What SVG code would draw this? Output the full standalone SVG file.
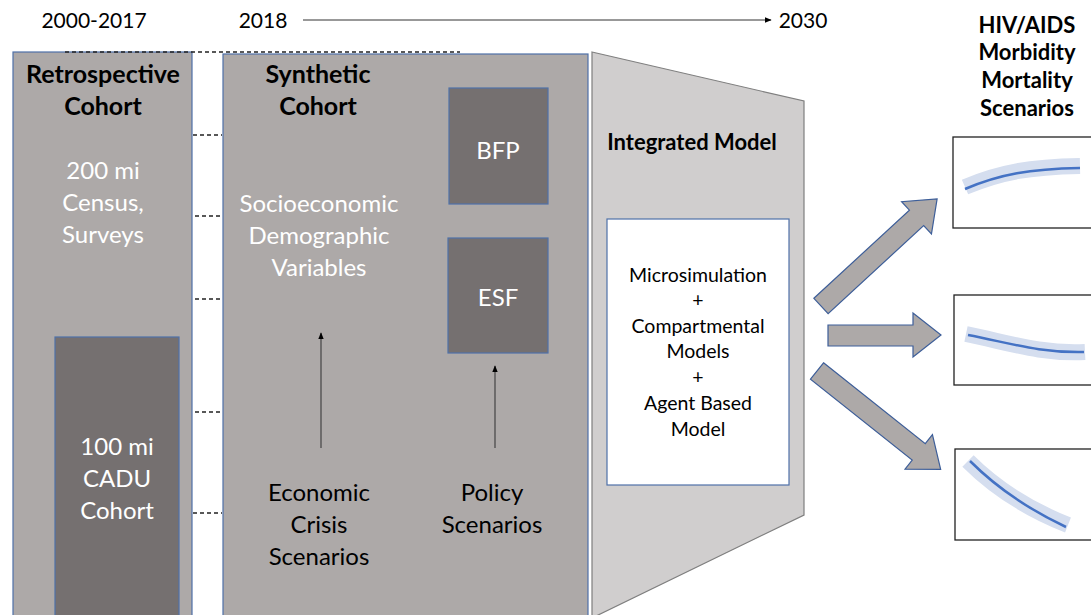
<svg xmlns="http://www.w3.org/2000/svg" width="1091" height="615" viewBox="0 0 1091 615">
<defs>
<style>
.t{font-family:Lato,"Liberation Sans",sans-serif;text-anchor:middle}
.w{fill:#ffffff}
.k{fill:#000000}
.b{font-weight:bold}
.box{fill:#ADA9A8;stroke:#4F71A8;stroke-width:1.2}
.dark{fill:#757070;stroke:#4F71A8;stroke-width:1.2}
.dash{stroke:#222;stroke-width:1.3;stroke-dasharray:4 3;fill:none}
.blk{fill:#ADA9A8;stroke:#3D5E99;stroke-width:1.2}
.band{fill:none;stroke:#D5DEEF;stroke-width:16;stroke-linecap:butt}
.crv{fill:none;stroke:#4472C4;stroke-width:2.5}
.sbox{fill:#fff;stroke:#222;stroke-width:1.3}
</style>
<marker id="ah" viewBox="0 0 10 10" refX="9" refY="5" markerWidth="7" markerHeight="7" orient="auto" markerUnits="userSpaceOnUse"><path d="M0,1 L10,5 L0,9 z" fill="#000"/></marker>
</defs>
<rect width="1091" height="615" fill="#fff"/>

<g id="timeline">
<text class="t k" x="94" y="28" font-size="21">2000-2017</text>
<text class="t k" x="263" y="28" font-size="21">2018</text>
<text class="t k" x="803" y="28" font-size="21">2030</text>
</g>

<g id="retrospective">
<rect class="box" x="13" y="52" width="179" height="570"/>
<text class="t k b" x="103" y="83" font-size="25">Retrospective</text>
<text class="t k b" x="103" y="115" font-size="25">Cohort</text>
<text class="t w" x="103" y="179" font-size="24">200 mi</text>
<text class="t w" x="103" y="211" font-size="24">Census,</text>
<text class="t w" x="103" y="243" font-size="24">Surveys</text>
</g>

<g id="cadu">
<rect class="dark" x="55" y="337" width="124" height="290"/>
<text class="t w" x="117" y="455" font-size="24">100 mi</text>
<text class="t w" x="117" y="487" font-size="24">CADU</text>
<text class="t w" x="117" y="519" font-size="24">Cohort</text>
</g>

<g id="synthetic">
<rect class="box" x="223" y="54" width="365" height="570"/>
<text class="t k b" x="318" y="83" font-size="25">Synthetic</text>
<text class="t k b" x="318" y="115" font-size="25">Cohort</text>
<text class="t w" x="319" y="212" font-size="24">Socioeconomic</text>
<text class="t w" x="319" y="244" font-size="24">Demographic</text>
<text class="t w" x="319" y="276" font-size="24">Variables</text>
<text class="t k" x="319" y="501" font-size="24">Economic</text>
<text class="t k" x="319" y="533" font-size="24">Crisis</text>
<text class="t k" x="319" y="565" font-size="24">Scenarios</text>
<text class="t k" x="492" y="501" font-size="24">Policy</text>
<text class="t k" x="492" y="533" font-size="24">Scenarios</text>
</g>

<g id="bfp">
<rect class="dark" x="449" y="88" width="99" height="116"/>
<text class="t w" x="498" y="159" font-size="24">BFP</text>
</g>

<g id="esf">
<rect class="dark" x="448" y="238" width="100" height="115"/>
<text class="t w" x="498" y="306" font-size="24">ESF</text>
</g>

<g id="integrated">
<polygon points="592,52 804,101 804,515 592,618" fill="#D0CECE" stroke="#7F7F7F" stroke-width="1.2"/>
<text class="t k b" x="692" y="150" font-size="22">Integrated Model</text>
<rect x="607" y="219" width="182" height="266" fill="#fff" stroke="#4F71A8" stroke-width="1.2"/>
<text class="t k" x="698" y="282" font-size="19.5">Microsimulation</text>
<text class="t k" x="698" y="307" font-size="19.5">+</text>
<text class="t k" x="698" y="333" font-size="19.5">Compartmental</text>
<text class="t k" x="698" y="358" font-size="19.5">Models</text>
<text class="t k" x="698" y="384" font-size="19.5">+</text>
<text class="t k" x="698" y="410" font-size="19.5">Agent Based</text>
<text class="t k" x="698" y="436" font-size="19.5">Model</text>
</g>

<g id="outcomes">
<text class="t k b" x="1027" y="33" font-size="22">HIV/AIDS</text>
<text class="t k b" x="1027" y="60" font-size="22">Morbidity</text>
<text class="t k b" x="1027" y="88" font-size="22">Mortality</text>
<text class="t k b" x="1027" y="116" font-size="22">Scenarios</text>
</g>

<g id="scenario1">
<rect class="sbox" x="953" y="137" width="145" height="91"/>
<path class="band" d="M965,187 C1000,172 1030,167 1080,166"/>
<path class="crv" d="M965,189 C1000,174 1030,169 1080,168"/>
</g>
<g id="scenario2">
<rect class="sbox" x="954" y="295" width="145" height="90"/>
<path class="band" d="M966,334 C1010,343 1040,354 1085,352"/>
<path class="crv" d="M968,335 C1010,343 1040,353 1084,352"/>
</g>
<g id="scenario3">
<rect class="sbox" x="955" y="449" width="145" height="91"/>
<path class="band" d="M968,461 C995,488 1030,510 1068,525"/>
<path class="crv" d="M970,461 C997,488 1030,510 1066,527"/>
</g>

<g id="connectors">
<line class="dash" x1="65" y1="52" x2="460" y2="52"/>
<line class="dash" x1="193" y1="135" x2="222" y2="135"/>
<line class="dash" x1="195" y1="216" x2="222" y2="216"/>
<line class="dash" x1="195" y1="299" x2="222" y2="299"/>
<line class="dash" x1="195" y1="412" x2="222" y2="412"/>
<line class="dash" x1="193" y1="513" x2="222" y2="513"/>
<line x1="303" y1="20" x2="771" y2="20" stroke="#333" stroke-width="1" marker-end="url(#ah)"/>
<line x1="321" y1="448" x2="321" y2="333" stroke="#444" stroke-width="1.2" marker-end="url(#ah)"/>
<line x1="495" y1="448" x2="495" y2="366" stroke="#444" stroke-width="1.2" marker-end="url(#ah)"/>
<polygon class="blk" transform="translate(821,306) rotate(-42.7)" points="0,-10.5 130,-10.5 130,-22 158,0 130,22 130,10.5 0,10.5"/>
<polygon class="blk" points="828,325 913,325 913,313 941,335 913,357 913,346 828,346"/>
<polygon class="blk" transform="translate(817,371) rotate(38.5)" points="0,-10.5 130,-10.5 130,-22 158,0 130,22 130,10.5 0,10.5"/>
</g>
</svg>
